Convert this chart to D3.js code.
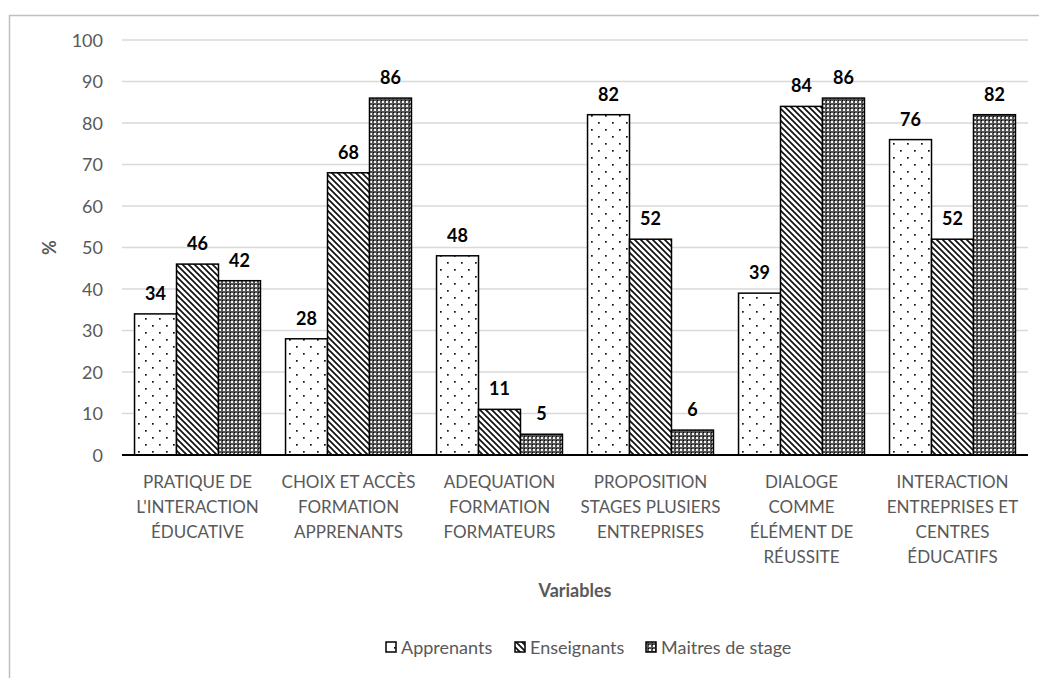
<!DOCTYPE html>
<html><head><meta charset="utf-8">
<script src="https://cdn.jsdelivr.net/npm/d3@7/dist/d3.min.js"></script>
<style>body{margin:0;background:#fff}svg{display:block;font-family:Lato,"Open Sans",sans-serif}</style>
</head><body><svg id="c" width="1039" height="678"></svg>
<script>
const categories = [
  ["PRATIQUE DE","L'INTERACTION","ÉDUCATIVE"],
  ["CHOIX ET ACCÈS","FORMATION","APPRENANTS"],
  ["ADEQUATION","FORMATION","FORMATEURS"],
  ["PROPOSITION","STAGES PLUSIERS","ENTREPRISES"],
  ["DIALOGE","COMME","ÉLÉMENT DE","RÉUSSITE"],
  ["INTERACTION","ENTREPRISES ET","CENTRES","ÉDUCATIFS"]
];
const seriesNames = ["Apprenants","Enseignants","Maitres de stage"];
const apprenants = [34,28,48,82,39,76];
const enseignants = [46,68,11,52,84,52];
const maitres = [42,86,5,6,86,82];
const yTicks = [0,10,20,30,40,50,60,70,80,90,100];
const series = [apprenants, enseignants, maitres];

const svg = d3.select("#c");
const defs = svg.append("defs");
// pattern: dots
const p1 = defs.append("pattern").attr("id","pat0").attr("patternUnits","userSpaceOnUse").attr("width",14).attr("height",14);
p1.append("rect").attr("width",14).attr("height",14).attr("fill","#fff");
p1.append("rect").attr("x",2).attr("y",3).attr("width",1.7).attr("height",1.7).attr("fill","#111");
p1.append("rect").attr("x",9).attr("y",10).attr("width",1.7).attr("height",1.7).attr("fill","#111");
// pattern: diagonal lines
const p2 = defs.append("pattern").attr("id","pat1").attr("patternUnits","userSpaceOnUse").attr("width",6).attr("height",6);
p2.append("rect").attr("width",6).attr("height",6).attr("fill","#fff");
p2.append("path").attr("d","M-1,-1 L7,7 M-4,2 L4,10 M2,-4 L10,4").attr("stroke","#111").attr("stroke-width",1.7);
// pattern: dense check
const p3 = defs.append("pattern").attr("id","pat2").attr("patternUnits","userSpaceOnUse").attr("width",4).attr("height",4);
p3.append("rect").attr("width",4).attr("height",4).attr("fill","#555");
p3.append("rect").attr("x",1).attr("y",1).attr("width",2).attr("height",2).attr("fill","#f4f4f4");
p3.append("rect").attr("x",0).attr("y",0).attr("width",1).attr("height",1).attr("fill","#000");

// chart border
svg.append("rect").attr("x",9.5).attr("y",15.5).attr("width",1100).attr("height",800)
  .attr("fill","none").attr("stroke","#bfbfbf").attr("stroke-width",1.5);

const pLeft=122, pRight=1028, pTop=40, pBottom=455;
const y = d3.scaleLinear().domain([0,100]).range([pBottom, pTop]);
const x0 = d3.scaleBand().domain(d3.range(categories.length)).range([pLeft,pRight]).padding(0);
const bw = x0.bandwidth();
const gap = bw*0.166;
const x1 = d3.scaleBand().domain(d3.range(3)).range([gap/2, bw-gap/2]).padding(0);

// grid
svg.append("g").selectAll("line").data(yTicks.filter(d=>d>0)).join("line")
  .attr("x1",pLeft).attr("x2",pRight).attr("y1",d=>y(d)).attr("y2",d=>y(d))
  .attr("stroke","#d9d9d9").attr("stroke-width",1.3);

// y axis labels
const yAxis = d3.axisLeft(y).tickValues(yTicks).tickSize(0).tickPadding(19);
const ga = svg.append("g").attr("transform",`translate(${pLeft},0)`).call(yAxis);
ga.select(".domain").remove();
ga.selectAll("text").attr("font-size",18).attr("fill","#595959").attr("font-family","Lato,sans-serif").attr("dy","0.35em");

// bars
const groups = svg.append("g").selectAll("g").data(categories).join("g")
  .attr("transform",(d,i)=>`translate(${x0(i)},0)`);
groups.each(function(c,i){
  const g = d3.select(this);
  series.forEach((s,k)=>{
    g.append("rect").attr("x",x1(k)).attr("y",y(s[i])).attr("width",x1.bandwidth()).attr("height",y(0)-y(s[i]))
      .attr("fill",`url(#pat${k})`).attr("stroke","#000").attr("stroke-width",1.5);
    g.append("text").attr("x",x1(k)+x1.bandwidth()/2).attr("y",y(s[i])-14)
      .attr("text-anchor","middle").attr("font-size",18).attr("font-weight","bold").attr("fill","#000").text(s[i]);
  });
  const t = g.append("text").attr("text-anchor","middle").attr("font-size",17).attr("fill","#595959");
  c.forEach((line,j)=>{
    t.append("tspan").attr("x",bw/2).attr("y",488+j*25).text(line);
  });
});

// baseline
svg.append("line").attr("x1",pLeft).attr("x2",pRight).attr("y1",pBottom).attr("y2",pBottom).attr("stroke","#000").attr("stroke-width",2);

// axis titles
svg.append("text").attr("x",575).attr("y",597).attr("text-anchor","middle").attr("font-size",18).attr("font-weight","bold").attr("fill","#595959").text("Variables");
svg.append("text").attr("transform",`translate(56,${(pTop+pBottom)/2}) rotate(-90)`).attr("text-anchor","middle").attr("font-size",18).attr("font-weight","bold").attr("fill","#595959").text("%");

// legend
const legX = [386, 515, 646];
const lg = svg.append("g");
seriesNames.forEach((n,k)=>{
  lg.append("rect").attr("x",legX[k]).attr("y",642).attr("width",10).attr("height",10)
    .attr("fill",`url(#pat${k})`).attr("stroke","#000").attr("stroke-width",1.5);
  lg.append("text").attr("x",legX[k]+15).attr("y",654).attr("font-size",18).attr("fill","#595959").text(n);
});
</script></body></html>
